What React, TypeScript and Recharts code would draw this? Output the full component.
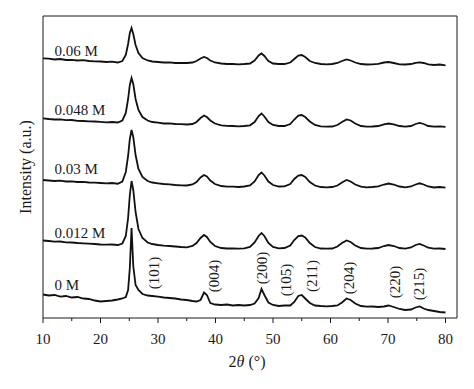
import { LineChart, Line, XAxis, YAxis, ReferenceDot } from "recharts";

// 2θ sampling positions (degrees)
const twoTheta = [
  10, 11, 12, 13, 14, 15, 16, 17, 18, 19,
  20, 21, 22, 23, 23.8, 24.4, 24.8, 25.1, 25.4, 25.7,
  26.1, 26.6, 27.3, 28.2, 29, 30, 31, 32, 33, 34,
  35, 36, 36.7, 37.4, 38, 38.5, 39.1, 39.9, 41, 42,
  43, 44, 45, 46, 46.8, 47.5, 48, 48.5, 49.2, 50,
  51, 52, 53, 53.7, 54.4, 55, 55.6, 56.4, 57.3, 58.3,
  59.3, 60.3, 61.2, 62, 62.8, 63.5, 64.3, 65.3, 66.3, 67.3,
  68.3, 69.3, 70.1, 71, 72, 73, 74, 74.8, 75.5, 76.2,
  77, 78, 79, 80,
];

// intensities (a.u., already offset for stacking)
const m006 = [
  259.7, 259.3, 258.5, 259, 258, 258.2, 257.5, 257.8, 257, 256.7,
  256.5, 256, 256.3, 255.5, 257, 263, 274, 285, 290, 284,
  273, 265, 260, 257.5, 256.5, 256, 255.5, 255.7, 255, 255.2,
  255, 255.5, 257, 259.5, 261, 260, 257.5, 255.5, 254.5, 254,
  254, 253.7, 254, 254.5, 257.5, 262.5, 264.5, 262, 257, 254.5,
  254, 254, 255.5, 259, 262.5, 263, 261, 257, 255, 254,
  253.7, 254, 255, 257, 258.5, 257.5, 255.5, 254, 253.5, 253.7,
  254.2, 255.5, 256, 255, 253.7, 253.5, 254, 255.2, 255.7, 255,
  253.7, 253, 253.5, 252.7,
];
const m0048 = [
  199.7, 199, 198.5, 198.7, 197.8, 198, 197.2, 197, 196.7, 196.5,
  196.2, 195.7, 196, 195.5, 197.5, 205, 219, 233, 240, 234,
  219, 208, 201, 197.5, 196, 195.3, 194.5, 194.7, 194, 193.8,
  193.5, 194, 196, 200, 202.5, 201, 197.5, 194.5, 192.7, 192.2,
  192, 191.7, 192, 192.7, 196, 202, 204.5, 201.5, 196, 193,
  192, 192, 194, 198.5, 202.5, 203, 201, 196.5, 193, 191.7,
  191.3, 191.5, 193, 196, 198.5, 197.5, 194.5, 192, 191.3, 191.5,
  192, 193.7, 194.5, 193.7, 192, 191.3, 192, 194, 195, 194,
  192, 191.3, 191.7, 191.2,
];
const m003 = [
  138, 137.5, 137, 137.3, 136.5, 136.7, 136, 136.2, 135.5, 135.3,
  135, 134.7, 135, 134.3, 136.5, 146, 162, 179, 188, 181,
  163, 149, 141, 137, 135.5, 134.7, 134, 133.7, 133, 132.7,
  132.5, 133.5, 136, 140.5, 143, 141.5, 137.5, 134, 132, 131.3,
  131.3, 131, 131.5, 132.5, 136.5, 143, 145.5, 142.5, 136.5, 133,
  131.5, 131.7, 134, 139, 142.5, 143, 141, 136, 132.5, 131,
  130.7, 131, 132.5, 135.5, 138, 136.5, 133.5, 131.3, 130.7, 131,
  131.7, 133.5, 134.5, 133.5, 131.5, 130.7, 131.5, 133.5, 134.7, 133.5,
  131.5, 130.5, 131, 130.3,
];
const m0012 = [
  77.5, 77, 76.3, 76.5, 75.7, 75.5, 75, 74.7, 74.3, 74,
  73.5, 73.3, 73.5, 73, 74.5, 82, 100, 123, 137, 128,
  106, 89, 80, 75.5, 74, 73, 72.3, 72, 71.5, 71,
  70.7, 72, 75, 80, 83, 81, 76, 72, 70, 69.5,
  69.5, 69.3, 69.7, 71, 75.5, 82, 85, 82, 75, 71,
  69.7, 70, 72.5, 78, 82, 82.5, 80.5, 75, 71, 69.5,
  69.3, 69.5, 71.5, 75, 77.5, 76, 72.5, 70, 69.3, 69.5,
  70, 72, 73, 72, 70, 69.3, 70.5, 73, 74, 72.5,
  70.3, 69.3, 69.5, 69,
];
const m0 = [
  23.5, 22.5, 23, 21.3, 22, 20.5, 21, 19.5, 19, 17.5,
  16.5, 17, 17.5, 18.5, 19.5, 21, 28, 50, 90, 52,
  33, 28, 24, 22.5, 22, 21.3, 20.5, 20, 19.5, 18.5,
  18, 17, 16.5, 18, 25.5, 23, 15, 13.5, 13, 13.5,
  12.5, 13, 12.5, 13, 14.5, 20, 29, 23, 15.5, 13,
  12, 12.5, 12.5, 16, 22, 23, 19.5, 15, 12.5, 12,
  11.7, 12, 12.5, 15.5, 19.5, 18, 14.5, 12, 11.3, 11.5,
  11, 11.5, 12.5, 11, 9, 8, 8.5, 10.5, 11.5, 9.5,
  8, 7, 6, 5.5,
];

const seriesNames = ["0.06 M", "0.048 M", "0.03 M", "0.012 M", "0 M"];
const seriesValues = [m006, m0048, m003, m0012, m0];
const nameAt = 12;
const nameLevel = [262, 203, 144, 80, 28];

const hklNames = ["(101)", "(004)", "(200)", "(105)", "(211)", "(204)", "(220)", "(215)"];
const hklAt = [29.3, 39.7, 48.0, 52.3, 56.8, 63.3, 71.3, 75.4];
const hklLevel = [45, 42, 50, 38, 42, 40, 36, 34];

const xTicks = [10, 15, 20, 25, 30, 35, 40, 45, 50, 55, 60, 65, 70, 75, 80];

const rows = twoTheta.map((t, i) => {
  const r: Record<string, number> = { t };
  seriesValues.forEach((vals, k) => (r["s" + k] = vals[i]));
  return r;
});

const FONT = '"Liberation Serif", "DejaVu Serif", serif';
const INK = "#1a1a1a";

// ticks point outward (down); minor ticks every 5 degrees without labels
const XTick = (p: any) => {
  const v = p.payload.value;
  const major = v % 10 === 0;
  return (
    <g>
      <line x1={p.x} x2={p.x} y1={p.y} y2={p.y + (major ? 5 : 3)} stroke={INK} strokeWidth={1} />
      {major && (
        <text x={p.x} y={p.y + 25.5} textAnchor="middle" fontSize={15} fontFamily={FONT} fill={INK}>
          {v}
        </text>
      )}
    </g>
  );
};

const nameLabel = (txt: string) => (p: any) => (
  <text x={p.viewBox.x} y={p.viewBox.y} fontSize={15} fontFamily={FONT} fill={INK}>
    {txt}
  </text>
);

const hklLabel = (txt: string) => (p: any) => {
  const cx = p.viewBox.x;
  const cy = p.viewBox.y;
  return (
    <text
      x={cx}
      y={cy}
      transform={`rotate(-90 ${cx} ${cy})`}
      textAnchor="middle"
      dominantBaseline="central"
      fontSize={15}
      fontFamily={FONT}
      fill={INK}
    >
      {txt}
    </text>
  );
};

export default function App() {
  return (
    <div style={{ position: "absolute", left: 0, top: 0, width: 474, height: 389, background: "#fff" }}>
      <LineChart width={474} height={389} data={rows} margin={{ top: 15, right: 16, left: 42, bottom: 41 }}>
        <XAxis
          dataKey="t"
          type="number"
          domain={[10, 82]}
          ticks={xTicks}
          interval={0}
          height={30}
          tickSize={0}
          tickMargin={0}
          tickLine={false}
          tick={XTick}
          axisLine={{ stroke: INK, strokeWidth: 1 }}
        />
        <XAxis
          xAxisId="top"
          dataKey="t"
          type="number"
          domain={[10, 82]}
          orientation="top"
          height={1}
          tick={false}
          tickLine={false}
          axisLine={{ stroke: INK, strokeWidth: 1 }}
        />
        <YAxis
          type="number"
          domain={[0, 302]}
          width={1}
          tick={false}
          tickLine={false}
          axisLine={{ stroke: INK, strokeWidth: 1 }}
        />
        <YAxis
          yAxisId="right"
          orientation="right"
          type="number"
          domain={[0, 302]}
          width={1}
          tick={false}
          tickLine={false}
          axisLine={{ stroke: INK, strokeWidth: 1 }}
        />
        {seriesNames.map((n, k) => (
          <Line
            key={n}
            name={n}
            dataKey={"s" + k}
            type="linear"
            stroke="#111"
            strokeWidth={1.8}
            dot={false}
            isAnimationActive={false}
          />
        ))}
        {seriesNames.map((n, k) => (
          <ReferenceDot key={"n" + k} x={nameAt} y={nameLevel[k]} r={0} fill="none" stroke="none" label={nameLabel(n)} />
        ))}
        {hklNames.map((h, k) => (
          <ReferenceDot key={"h" + k} x={hklAt[k]} y={hklLevel[k]} r={0} fill="none" stroke="none" label={hklLabel(h)} />
        ))}
      </LineChart>
      <div
        style={{
          position: "absolute",
          left: 247,
          top: 362,
          transform: "translate(-50%, -50%)",
          fontFamily: FONT,
          fontSize: 16,
          color: INK,
          whiteSpace: "nowrap",
        }}
      >
        2<i>θ</i> (°)
      </div>
      <div
        style={{
          position: "absolute",
          left: 26,
          top: 167,
          transform: "translate(-50%, -50%) rotate(-90deg)",
          fontFamily: FONT,
          fontSize: 16,
          color: INK,
          whiteSpace: "nowrap",
        }}
      >
        Intensity (a.u.)
      </div>
    </div>
  );
}
